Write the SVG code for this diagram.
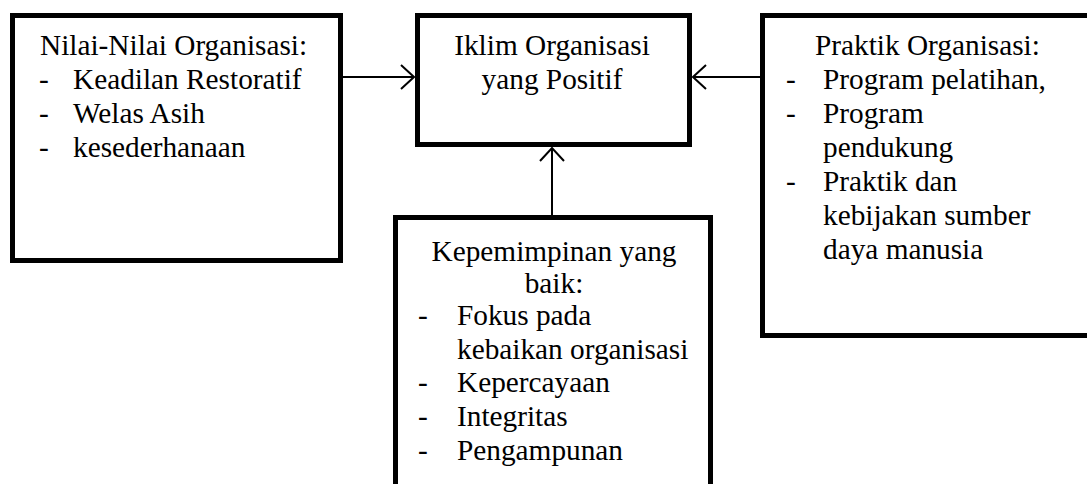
<svg xmlns="http://www.w3.org/2000/svg" width="1087" height="484" viewBox="0 0 1087 484">
<style>
.box{fill:#fff;stroke:#000;stroke-width:5}
.t{font-family:"Liberation Serif","Times New Roman",serif;font-size:29.3px;fill:#000}
.c{text-anchor:middle}
.con{stroke:#000;stroke-width:2;fill:none}
</style>
<defs>
<marker id="ah" viewBox="0 0 15 26" refX="14" refY="13" markerWidth="15" markerHeight="26" markerUnits="userSpaceOnUse" orient="auto">
<path d="M1,1 L14,13 L1,25" fill="none" stroke="#000" stroke-width="2"/>
</marker>
</defs>
<rect width="1087" height="484" fill="#fff"/>
<g id="connectors">
<line class="con" x1="343" y1="77" x2="414" y2="77" marker-end="url(#ah)"/>
<line class="con" x1="761" y1="77" x2="693" y2="77" marker-end="url(#ah)"/>
<line class="con" x1="552" y1="216" x2="552" y2="148" marker-end="url(#ah)"/>
</g>
<g id="nilai">
<rect class="box" x="12.5" y="15.5" width="328" height="245"/>
<text class="t" x="40" y="55">Nilai-Nilai Organisasi:</text>
<text class="t" x="39" y="89">-</text><text class="t" x="73" y="89">Keadilan Restoratif</text>
<text class="t" x="39" y="123">-</text><text class="t" x="73" y="123">Welas Asih</text>
<text class="t" x="39" y="157">-</text><text class="t" x="73" y="157">kesederhanaan</text>
</g>
<g id="iklim">
<rect class="box" x="417.5" y="15.5" width="272" height="129"/>
<text class="t c" x="552" y="55">Iklim Organisasi</text>
<text class="t c" x="552" y="89">yang Positif</text>
</g>
<g id="praktik">
<rect class="box" x="762.5" y="15.5" width="340" height="320"/>
<text class="t" x="815" y="55">Praktik Organisasi:</text>
<text class="t" x="786" y="89">-</text><text class="t" x="823" y="89">Program pelatihan,</text>
<text class="t" x="786" y="123">-</text><text class="t" x="823" y="123">Program</text>
<text class="t" x="823" y="157">pendukung</text>
<text class="t" x="786" y="191">-</text><text class="t" x="823" y="191">Praktik dan</text>
<text class="t" x="823" y="225">kebijakan sumber</text>
<text class="t" x="823" y="259">daya manusia</text>
</g>
<g id="kepemimpinan">
<rect class="box" x="395.5" y="217.5" width="315" height="280"/>
<text class="t c" x="554" y="261">Kepemimpinan yang</text>
<text class="t c" x="554" y="293">baik:</text>
<text class="t" x="418" y="325">-</text><text class="t" x="457" y="325">Fokus pada</text>
<text class="t" x="457" y="359">kebaikan organisasi</text>
<text class="t" x="418" y="392">-</text><text class="t" x="457" y="392">Kepercayaan</text>
<text class="t" x="418" y="426">-</text><text class="t" x="457" y="426">Integritas</text>
<text class="t" x="418" y="460">-</text><text class="t" x="457" y="460">Pengampunan</text>
</g>
</svg>
